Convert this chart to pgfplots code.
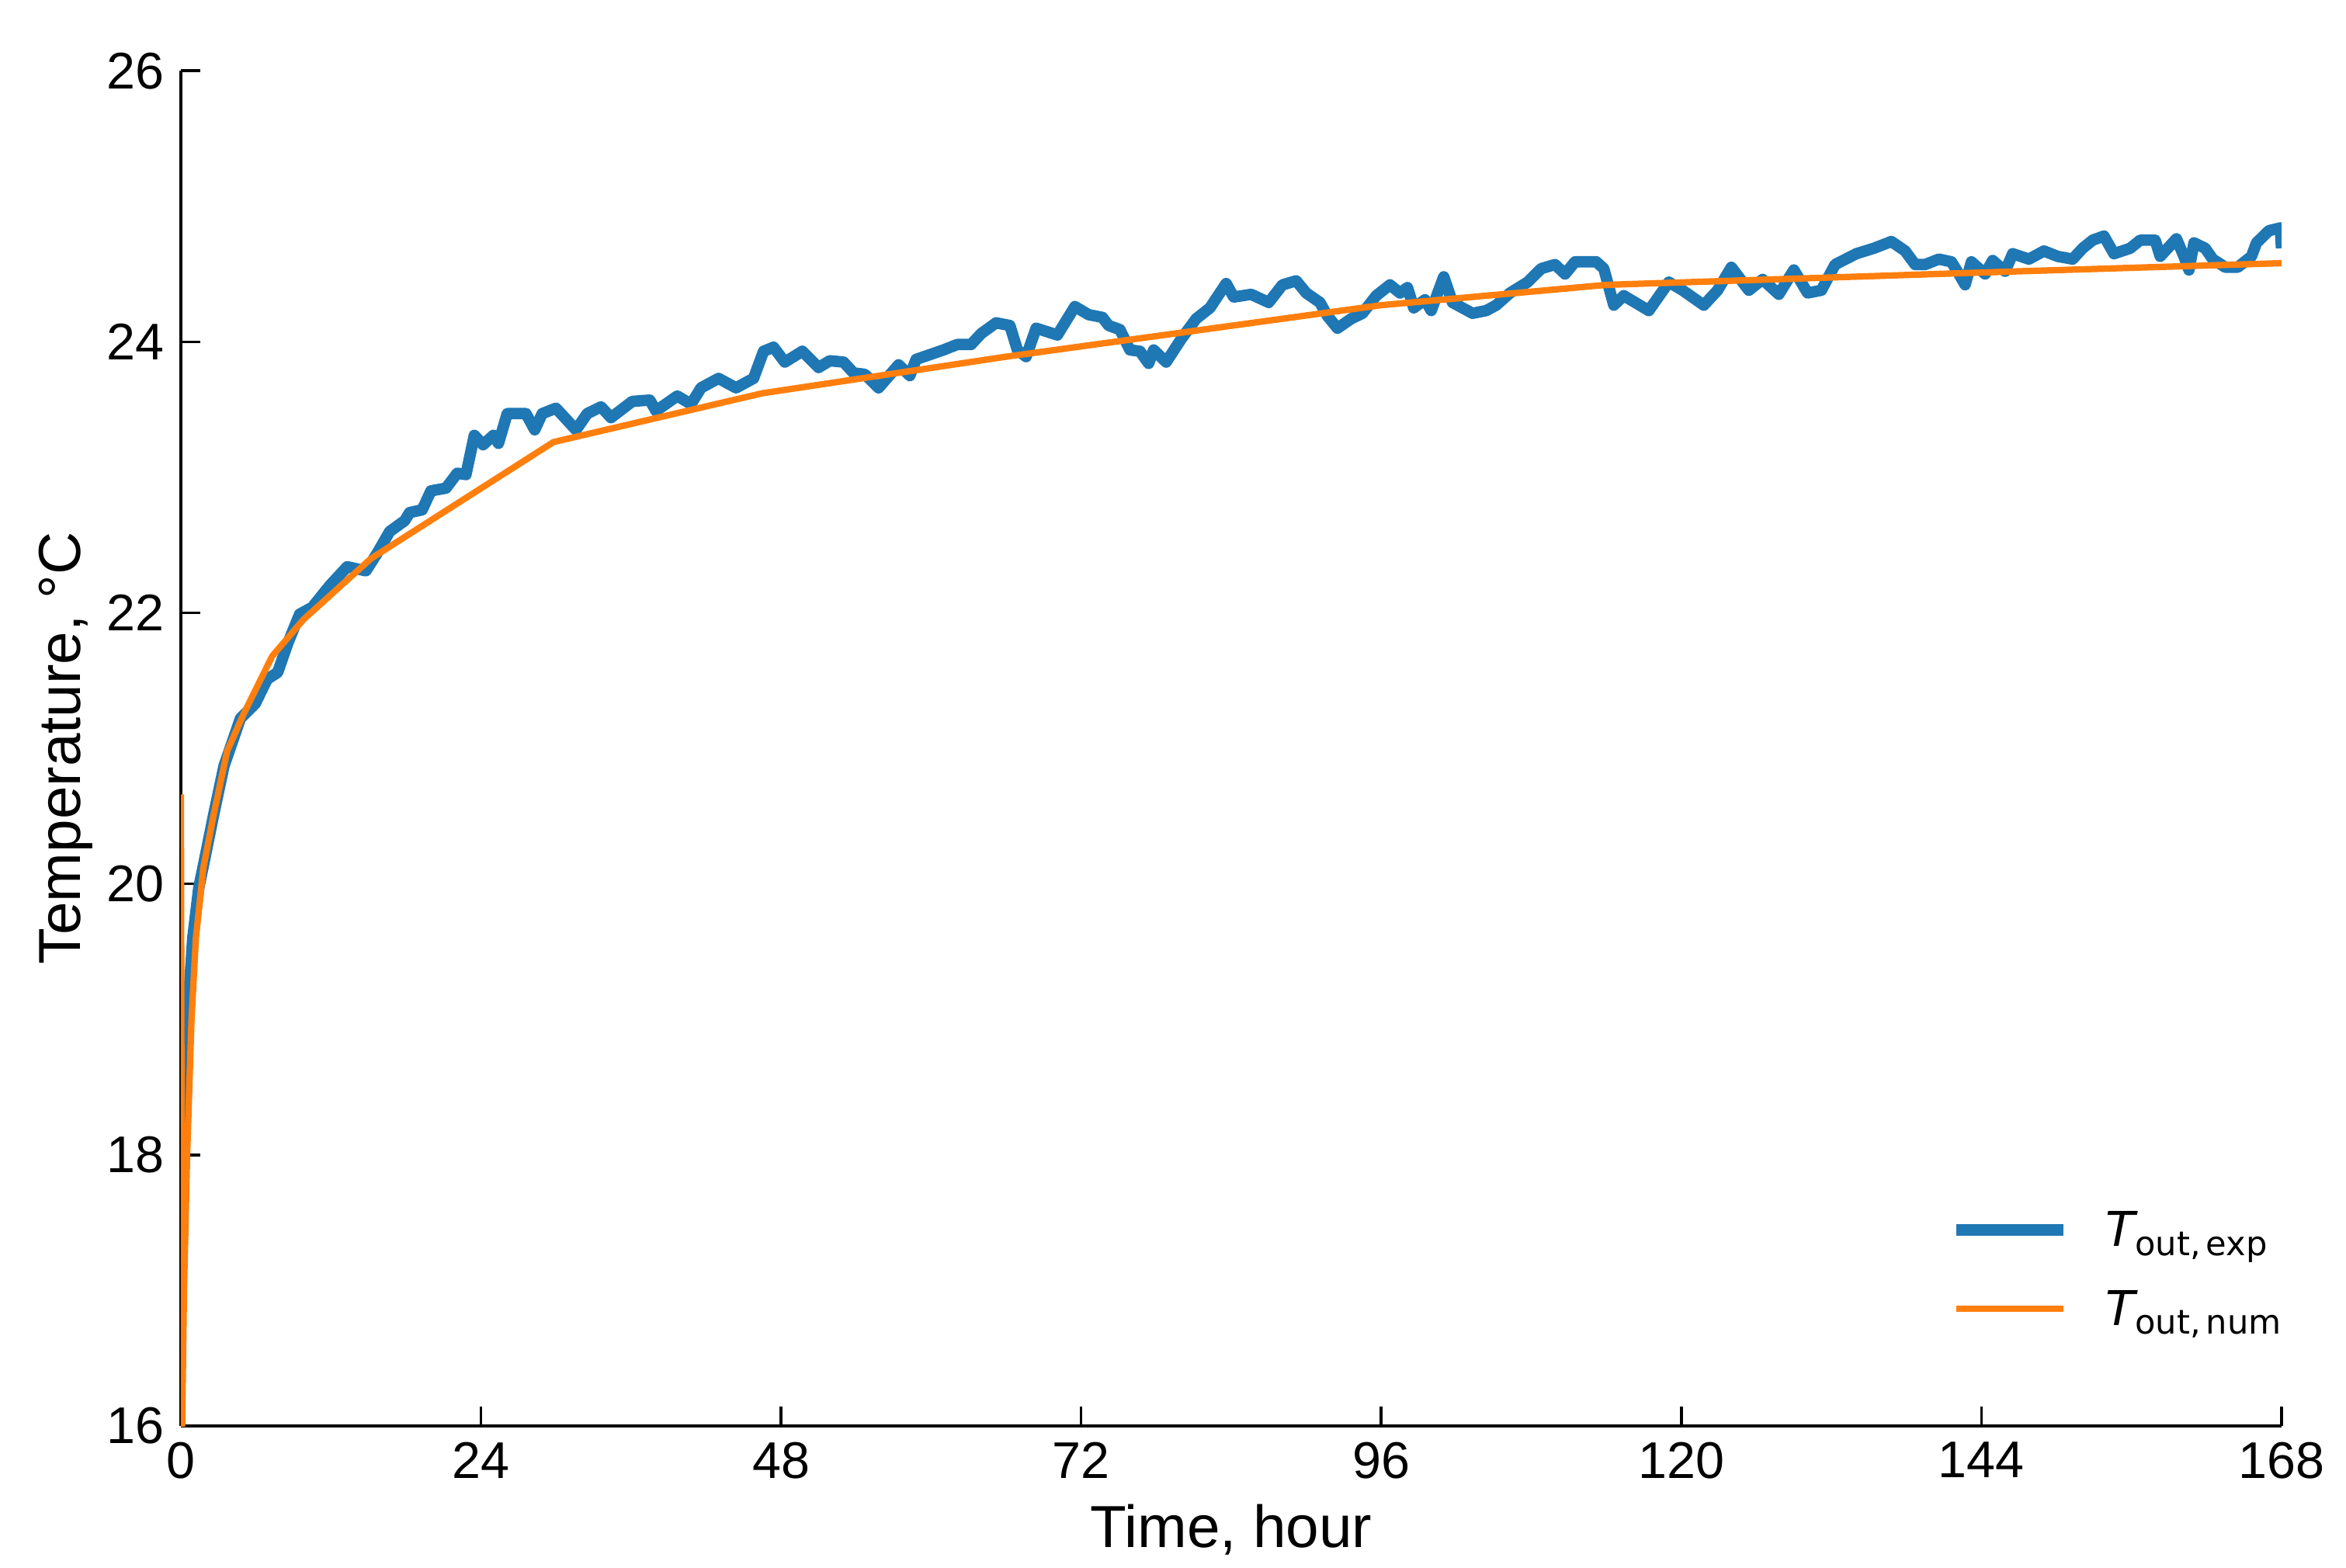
\documentclass[border=0pt]{standalone}
\usepackage{fontspec}
\setmainfont{Liberation Sans}
\newfontfamily\djv{DejaVu Sans}
\usepackage{pgfplots}
\usepackage{pgfplotstable}
\pgfplotsset{compat=1.18}
\definecolor{tblue}{HTML}{1F77B4}
\definecolor{torange}{HTML}{FF7F0E}

\pgfplotstableread{
t T
0.05 18.2
0.2 18.6
0.48 18.95
0.95 19.6
1.43 19.97
1.9 20.18
2.6 20.5
3.45 20.87
4.05 21.03
4.76 21.22
5.95 21.33
6.9 21.51
7.74 21.56
8.57 21.78
9.5 21.99
10.5 22.04
11.9 22.2
13.3 22.34
14.8 22.31
15.7 22.44
16.7 22.6
17.9 22.68
18.3 22.74
19.3 22.76
20.0 22.9
21.2 22.92
22.1 23.03
22.8 23.02
23.47 23.31
24.17 23.24
25.0 23.31
25.4 23.25
26.1 23.47
27.6 23.47
28.3 23.35
28.9 23.47
30.0 23.51
31.6 23.35
32.5 23.47
33.6 23.52
34.4 23.44
36.1 23.56
37.5 23.57
38.0 23.49
39.7 23.60
40.8 23.54
41.6 23.66
43.0 23.73
44.4 23.66
45.8 23.73
46.6 23.93
47.4 23.96
48.3 23.85
49.7 23.93
51.0 23.81
51.9 23.86
53.0 23.85
53.8 23.77
54.7 23.76
55.8 23.66
57.4 23.83
58.3 23.75
58.8 23.87
61.0 23.94
62.1 23.98
63.2 23.98
64.0 24.06
65.2 24.14
66.3 24.12
66.9 23.94
67.6 23.89
68.4 24.10
70.1 24.05
71.5 24.26
72.6 24.20
73.7 24.18
74.2 24.12
75.1 24.09
75.9 23.94
76.7 23.93
77.4 23.84
77.8 23.94
78.8 23.85
80.0 24.02
81.2 24.17
82.3 24.25
83.6 24.43
84.2 24.33
85.6 24.35
87.0 24.29
88.1 24.42
89.2 24.45
90.0 24.36
91.1 24.29
91.7 24.19
92.5 24.10
93.6 24.17
94.5 24.21
95.6 24.34
96.7 24.42
97.5 24.36
98.1 24.40
98.6 24.25
99.5 24.31
100.0 24.23
101.0 24.48
101.7 24.29
103.3 24.21
104.4 24.23
105.2 24.27
106.3 24.36
107.7 24.44
108.8 24.54
109.9 24.57
110.7 24.50
111.5 24.59
113.2 24.59
113.8 24.54
114.6 24.27
115.4 24.34
117.4 24.23
119.0 24.44
120.1 24.38
121.8 24.27
122.9 24.38
124.0 24.55
125.4 24.38
126.5 24.46
127.8 24.35
129.0 24.53
130.1 24.36
131.2 24.38
132.3 24.57
134.0 24.65
135.4 24.69
136.8 24.74
137.9 24.67
138.7 24.57
139.5 24.57
140.6 24.61
141.6 24.59
142.2 24.50
142.7 24.42
143.2 24.59
144.3 24.50
144.9 24.60
145.9 24.52
146.5 24.65
147.8 24.61
149.0 24.67
150.1 24.63
151.3 24.61
152.1 24.69
152.9 24.75
153.8 24.78
154.6 24.65
155.9 24.69
156.7 24.75
157.9 24.75
158.3 24.63
159.6 24.76
160.2 24.63
160.6 24.53
161.0 24.73
161.9 24.69
162.5 24.61
163.5 24.55
164.5 24.55
165.6 24.63
166.0 24.73
167.0 24.82
167.9 24.84
168.0 24.69
}\expdata

\pgfplotstableread{
t T
0 20.66
0.1 16.0
0.25 17.0
0.5 18.0
0.85 19.0
1.2 19.6
1.8 20.12
2.6 20.5
3.7 20.98
5.0 21.25
7.3 21.68
9.8 21.95
15.2 22.4
29.8 23.26
46.5 23.62
66.0 23.89
96.0 24.27
114.0 24.42
147.0 24.52
168.0 24.58
}\numdata

\begin{document}
\begin{tikzpicture}
\begin{axis}[
  at={(0,0)}, anchor=south west,
  scale only axis, width=460pt, height=296.8pt,
  xmin=0, xmax=168, ymin=16, ymax=26,
  xtick={0,24,...,168}, ytick={16,18,...,26},
  axis x line*=bottom, axis y line*=left,
  axis line style={line width=0.7pt, black, -},
  tick style={line width=0.6pt, black},
  tick align=inside, major tick length=4.2pt,
  /pgf/number format/assume math mode=true,
  ticklabel style={font=\fontsize{11.3}{13}\selectfont},
  xticklabel style={inner sep=0pt, anchor=north, yshift=-3.4pt},
  yticklabel style={inner sep=0pt, anchor=east, xshift=-3.4pt},
  xlabel={Time, hour}, ylabel={Temperature, °C},
  label style={font=\fontsize{13}{15}\selectfont},
  xlabel style={at={(axis description cs:0.5,-0.0894)}, anchor=base},
  ylabel style={at={(axis description cs:-0.048,0.5)}, anchor=base},
  legend style={draw=none, fill=none, at={(axis description cs:1,0)}, anchor=south east,
    yshift=19.1pt, inner sep=0pt, outer sep=0pt, row sep=6.2pt, column sep=8pt,
    nodes={inner sep=0pt, text height=8pt, text depth=3pt, anchor=base west}},
  legend cell align=left,
  legend image code/.code={\draw[#1, line cap=butt] (0pt,3.6pt) -- (23.5pt,3.6pt);},
]
\addplot[tblue, line width=2.5pt, line join=round] table[x=t, y=T] {\expdata};
\addlegendentry{{\djv\fontsize{10.5}{12}\selectfont\itshape T}\raisebox{-1.9pt}{\djv\fontsize{7.35}{8}\selectfont out,\,exp}}
\addplot[torange, line width=1.4pt, line join=round] table[x=t, y=T] {\numdata};
\addlegendentry{{\djv\fontsize{10.5}{12}\selectfont\itshape T}\raisebox{-1.9pt}{\djv\fontsize{7.35}{8}\selectfont out,\,num}}
\end{axis}
\pgfresetboundingbox
\path[use as bounding box] (-39.61pt,-30.94pt) rectangle (474.13pt,312.29pt);
\end{tikzpicture}
\end{document}
